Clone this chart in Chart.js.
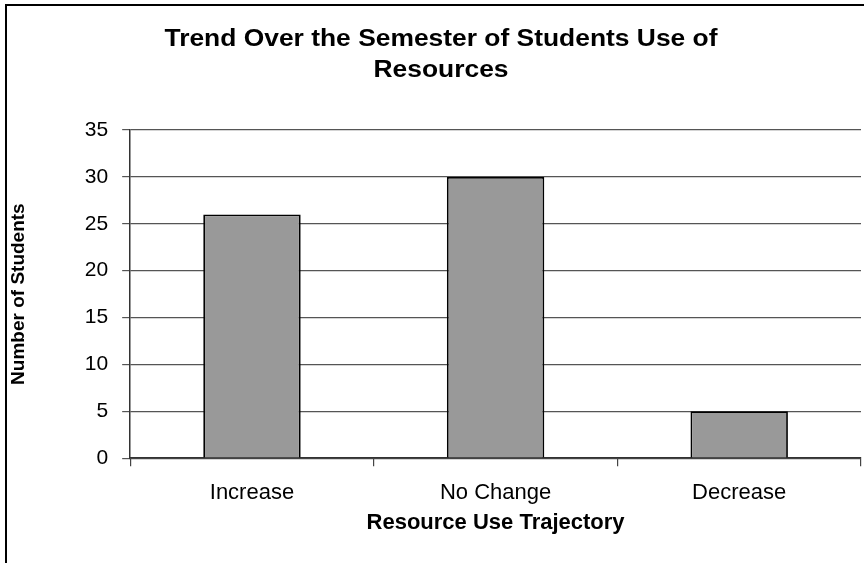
<!DOCTYPE html>
<html>
<head>
<meta charset="utf-8">
<script src="https://cdn.jsdelivr.net/npm/chart.js@4.4.1/dist/chart.umd.min.js"></script>
<style>
    html, body { margin: 0; padding: 0; background: #fff; }
    #wrap { position: relative; width: 864px; height: 563px; overflow: hidden; }
    #frame {
        position: absolute; left: 5px; top: 4px; width: 900px; height: 600px;
        border-left: 2px solid #000; border-top: 2px solid #000;
        pointer-events: none;
    }
    canvas { position: absolute; left: 0; top: 0; }
</style>
</head>
<body>
<div id="wrap">
    <canvas id="chart" width="864" height="563"></canvas>
    <div id="frame"></div>
</div>
<script>
var categories = ['Increase', 'No Change', 'Decrease'];
var students = [26, 30, 5];
var titleLines = ['Trend Over the Semester of Students Use of', 'Resources'];
var xTitle = 'Resource Use Trajectory';
var yTitle = 'Number of Students';

var FONT = '"Liberation Sans", Arial, sans-serif';

// excel-style title, a bit wider than the plain font and off the plot centre
var chartTitlePlugin = {
    id: 'chartTitle',
    afterDraw: function (chart) {
        var ctx = chart.ctx;
        ctx.save();
        ctx.font = 'bold 23px ' + FONT;
        ctx.fillStyle = '#000';
        ctx.textAlign = 'center';
        ctx.textBaseline = 'alphabetic';
        var w = ctx.measureText(titleLines[0]).width;
        var sx = 553 / w;
        ctx.translate(441, 0);
        ctx.scale(sx, 1);
        ctx.fillText(titleLines[0], 0, 46);
        ctx.fillText(titleLines[1], 0, 77);
        ctx.restore();
    }
};

new Chart(document.getElementById('chart'), {
    type: 'bar',
    data: {
        labels: categories,
        datasets: [{
            label: yTitle,
            data: students,
            backgroundColor: '#999999',
            borderColor: '#000000',
            borderWidth: 1.8,
            barPercentage: 0.4,
            categoryPercentage: 1.0
        }]
    },
    options: {
        responsive: false,
        animation: false,
        layout: {
            padding: { top: 130, right: 3, bottom: 26.5, left: 0 }
        },
        scales: {
            x: {
                grid: {
                    offset: true,
                    drawOnChartArea: true,
                    color: function (c) { return c.index === categories.length ? '#444' : 'rgba(0,0,0,0)'; },
                    tickColor: '#444',
                    tickLength: 8,
                    lineWidth: 1.2
                },
                border: { color: '#333', width: 1.5 },
                ticks: {
                    color: '#000',
                    padding: 14,
                    font: { family: FONT, size: 22 },
                    maxRotation: 0
                },
                title: {
                    display: true,
                    text: xTitle,
                    color: '#000',
                    font: { family: FONT, size: 22, weight: 'bold' },
                    padding: { top: -10.5, bottom: 0 }
                }
            },
            y: {
                min: 0,
                max: 35,
                grid: {
                    color: '#555',
                    tickColor: '#555',
                    tickLength: 8,
                    lineWidth: 1.2
                },
                border: { color: '#333', width: 1.5 },
                ticks: {
                    stepSize: 5,
                    color: '#000',
                    padding: 14,
                    font: { family: FONT, size: 21 }
                },
                title: {
                    display: true,
                    text: yTitle,
                    color: '#000',
                    font: { family: FONT, size: 19, weight: 'bold' },
                    padding: { top: 7, bottom: 41 }
                }
            }
        },
        plugins: {
            legend: { display: false },
            tooltip: { enabled: false },
            title: { display: false }
        }
    },
    plugins: [chartTitlePlugin]
});
</script>
</body>
</html>
